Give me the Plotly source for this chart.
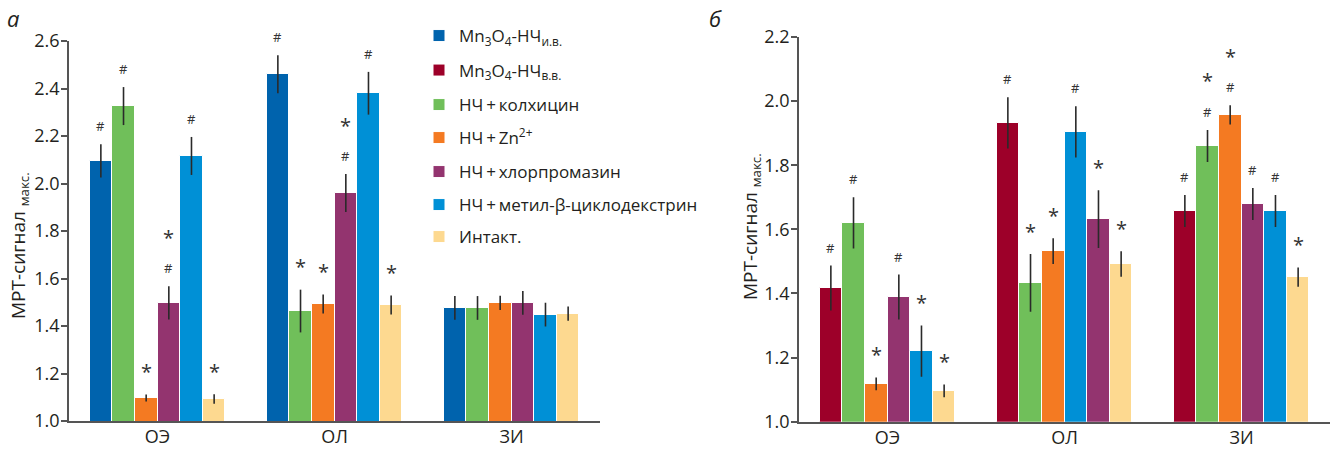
import plotly.graph_objects as go

FONT = "Open Sans"
W, H = 1332, 449

groups = ["ОЭ", "ОЛ", "ЗИ"]

# ---- panel a data ----
a_iv = [2.095, 2.460, 1.476]
a_iv_err = [0.07, 0.08, 0.05]
a_iv_marks = ["#", "#", ""]

a_colch = [2.326, 1.463, 1.476]
a_colch_err = [0.08, 0.09, 0.05]
a_colch_marks = ["#", "*", ""]

a_zn = [1.097, 1.493, 1.497]
a_zn_err = [0.015, 0.04, 0.03]
a_zn_marks = ["*", "*", ""]

a_chlor = [1.497, 1.960, 1.497]
a_chlor_err = [0.07, 0.08, 0.05]
a_chlor_marks = ["#*", "#*", ""]

a_mbcd = [2.116, 2.380, 1.448]
a_mbcd_err = [0.08, 0.09, 0.05]
a_mbcd_marks = ["#", "#", ""]

a_int = [1.093, 1.488, 1.452]
a_int_err = [0.02, 0.04, 0.03]
a_int_marks = ["*", "*", ""]

# ---- panel b data ----
b_vv = [1.417, 1.932, 1.657]
b_vv_err = [0.07, 0.08, 0.05]
b_vv_marks = ["#", "#", "#"]

b_colch = [1.620, 1.433, 1.860]
b_colch_err = [0.08, 0.09, 0.05]
b_colch_marks = ["#", "*", "#*"]

b_zn = [1.118, 1.532, 1.957]
b_zn_err = [0.02, 0.04, 0.03]
b_zn_marks = ["*", "*", "#*"]

b_chlor = [1.389, 1.632, 1.679]
b_chlor_err = [0.07, 0.09, 0.05]
b_chlor_marks = ["#", "*", "#"]

b_mbcd = [1.220, 1.904, 1.657]
b_mbcd_err = [0.08, 0.08, 0.05]
b_mbcd_marks = ["*", "#", "#"]

b_int = [1.096, 1.492, 1.451]
b_int_err = [0.02, 0.04, 0.03]
b_int_marks = ["*", "*", "*"]

# slot order of series within each group
a_order = [["iv", "colch", "zn", "chlor", "mbcd", "int"]] * 3
b_order = [["vv", "colch", "zn", "chlor", "mbcd", "int"],
           ["vv", "colch", "zn", "mbcd", "chlor", "int"],
           ["vv", "colch", "zn", "chlor", "mbcd", "int"]]

names = {
    "iv": "Mn<sub>3</sub>O<sub>4</sub>-НЧ<sub>и.в.</sub>",
    "vv": "Mn<sub>3</sub>O<sub>4</sub>-НЧ<sub>в.в.</sub>",
    "colch": "НЧ\u2009+\u2009колхицин",
    "zn": "НЧ\u2009+\u2009Zn<sup>2+</sup>",
    "chlor": "НЧ\u2009+\u2009хлорпромазин",
    "mbcd": "НЧ\u2009+\u2009метил-β-циклодекстрин",
    "int": "Интакт.",
}
colors = {
    "iv": "#0063ad", "vv": "#9d0029", "colch": "#70bf5a", "zn": "#f47a22",
    "chlor": "#93346f", "mbcd": "#0090d6", "int": "#fdd990",
}
legend_order = ["iv", "vv", "colch", "zn", "chlor", "mbcd", "int"]
legend_ids = {k: ("legend" if i == 0 else f"legend{i + 1}") for i, k in enumerate(legend_order)}
legend_ypx = [36, 70.5, 105, 138, 172, 205, 237]

panel_a = {"iv": (a_iv, a_iv_err, a_iv_marks), "colch": (a_colch, a_colch_err, a_colch_marks),
           "zn": (a_zn, a_zn_err, a_zn_marks), "chlor": (a_chlor, a_chlor_err, a_chlor_marks),
           "mbcd": (a_mbcd, a_mbcd_err, a_mbcd_marks), "int": (a_int, a_int_err, a_int_marks)}
panel_b = {"vv": (b_vv, b_vv_err, b_vv_marks), "colch": (b_colch, b_colch_err, b_colch_marks),
           "zn": (b_zn, b_zn_err, b_zn_marks), "chlor": (b_chlor, b_chlor_err, b_chlor_marks),
           "mbcd": (b_mbcd, b_mbcd_err, b_mbcd_marks), "int": (b_int, b_int_err, b_int_marks)}

GROUP_W = 0.768
SLOT = GROUP_W / 6

fig = go.Figure()
annotations = []
shown = set()


def add_panel(panel, order, xa, ya):
    for key, (vals, errs, marks) in panel.items():
        offs = [-GROUP_W / 2 + order[g].index(key) * SLOT for g in range(len(groups))]
        show = key not in shown
        shown.add(key)
        fig.add_trace(go.Bar(
            x=groups, y=vals, base=0, offset=offs, width=[SLOT] * len(groups),
            name=names[key], legendgroup=key, legend=legend_ids[key], showlegend=show,
            marker=dict(color=colors[key], line=dict(color="white", width=1)),
            error_y=dict(type="data", array=errs, color="#2a2a2a", thickness=1.6, width=0),
            xaxis=xa, yaxis=ya,
        ))
        for g, m in enumerate(marks):
            if not m:
                continue
            xc = g + offs[g] + SLOT / 2
            top = vals[g] + errs[g]
            shift = 18
            for sym in m:
                annotations.append(dict(
                    x=xc, y=top, xref=xa, yref=ya, text=sym, showarrow=False,
                    yanchor="middle", yshift=shift + (5 if sym == "*" else 0),
                    font=dict(family=FONT, size=13 if sym == "#" else 20, color="#333"),
                ))
                shift += 26


add_panel(panel_a, a_order, "x", "y")
add_panel(panel_b, b_order, "x2", "y2")

axis_common = dict(showline=True, linecolor="#555", linewidth=1.5, showgrid=False,
                   zeroline=False, automargin=False,
                   tickfont=dict(family=FONT, size=18, color="#231f20"))

layout = dict(
    width=W, height=H, margin=dict(l=0, r=0, t=0, b=0),
    plot_bgcolor="white", paper_bgcolor="white",
    barmode="group", bargap=0,
    xaxis=dict(domain=[69 / W, 600 / W], type="category", categoryorder="array",
               categoryarray=groups, range=[-0.5, 2.5], ticks="", anchor="y",
               ticklabelstandoff=-1, **axis_common),
    yaxis=dict(domain=[1 - 421 / H, 1 - 41 / H], range=[1.0, 2.6], dtick=0.2, tick0=1.0,
               tickformat=".1f", ticks="outside", ticklen=6, tickcolor="#555", tickwidth=1.5,
               ticklabelstandoff=-2, anchor="x", **axis_common),
    xaxis2=dict(domain=[799 / W, 1330 / W], type="category", categoryorder="array",
                categoryarray=groups, range=[-0.5, 2.5], ticks="", anchor="y2",
                ticklabelstandoff=-1, **axis_common),
    yaxis2=dict(domain=[1 - 421.7 / H, 1 - 37 / H], range=[1.0, 2.2], dtick=0.2, tick0=1.0,
                tickformat=".1f", ticks="outside", ticklen=6, tickcolor="#555", tickwidth=1.5,
                ticklabelstandoff=-2, anchor="x2", **axis_common),
    showlegend=True,
)
for key, ypx in zip(legend_order, legend_ypx):
    layout[legend_ids[key]] = dict(
        x=419 / W, y=1 - ypx / H, xanchor="left", yanchor="middle",
        font=dict(family=FONT, size=17, color="#231f20"),
        bgcolor="rgba(0,0,0,0)", borderwidth=0)
fig.update_layout(**layout)

ytitle = "МРТ-сигнал <sub>макс.</sub>"
annotations += [
    dict(x=19 / W, y=1 - 246 / H, xref="paper", yref="paper", text=ytitle, textangle=-90,
         showarrow=False, xanchor="center", yanchor="middle",
         font=dict(family=FONT, size=19, color="#231f20")),
    dict(x=751 / W, y=1 - 227 / H, xref="paper", yref="paper", text=ytitle, textangle=-90,
         showarrow=False, xanchor="center", yanchor="middle",
         font=dict(family=FONT, size=19, color="#231f20")),
    dict(x=13 / W, y=1 - 18 / H, xref="paper", yref="paper", text="<i>а</i>",
         showarrow=False, xanchor="center", yanchor="middle",
         font=dict(family=FONT, size=22, color="#231f20")),
    dict(x=715 / W, y=1 - 18 / H, xref="paper", yref="paper", text="<i>б</i>",
         showarrow=False, xanchor="center", yanchor="middle",
         font=dict(family=FONT, size=22, color="#231f20")),
]
fig.update_layout(annotations=annotations)

fig.write_html("out.html", config={"displayModeBar": False},
               post_script="document.body.style.margin='0';")
